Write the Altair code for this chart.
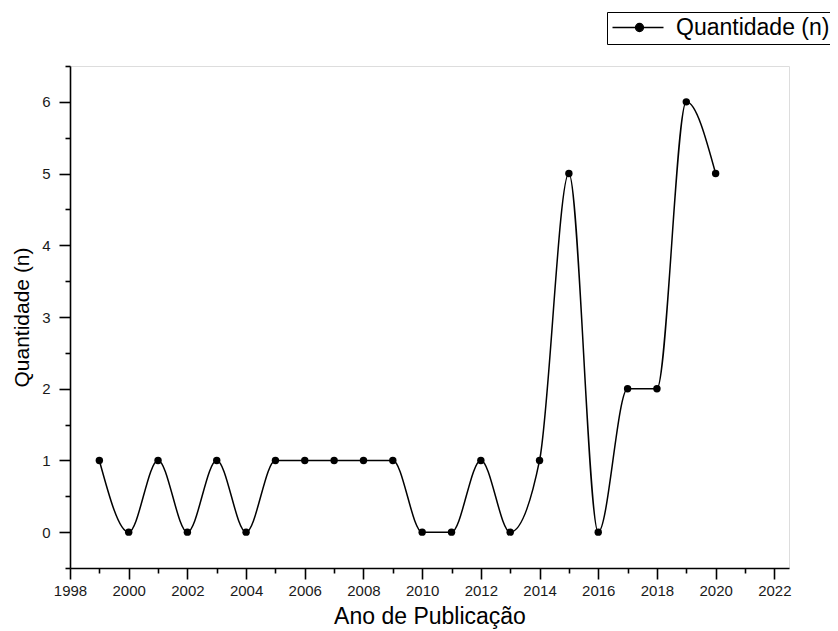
import altair as alt
import pandas as pd

years = list(range(1999, 2021))
quantidade = [1, 0, 1, 0, 1, 0, 1, 1, 1, 1, 1, 0, 0, 1, 0, 1, 5, 0, 2, 2, 6, 5]
serie = "Quantidade (n)"

x_major = list(range(1998, 2023, 2))
x_minor = list(range(1999, 2022, 2))
y_major = [0, 1, 2, 3, 4, 5, 6]
y_minor = [-0.5, 0.5, 1.5, 2.5, 3.5, 4.5, 5.5, 6.5]

df = pd.DataFrame({"ano": years, "q": quantidade, "serie": [serie] * len(years)})

FONT = "Liberation Sans"
xs = alt.Scale(domain=[1998, 2022.5], nice=False, zero=False)
ys = alt.Scale(domain=[-0.5, 6.5], nice=False, zero=False)

legend_symbol = (
    "M-1,0H4.1"
    "M2.1,0A0.4,0.4 0 1,1 1.3,0A0.4,0.4 0 1,1 2.1,0Z"
)

color = alt.Color(
    "serie:N",
    scale=alt.Scale(range=["black"]),
    legend=alt.Legend(
        title=None,
        orient="none",
        legendX=537,
        legendY=-54,
        strokeColor="black",
        padding=4,
        labelFont=FONT,
        labelFontSize=23,
        labelColor="black",
        symbolType=legend_symbol,
        symbolSize=400,
        symbolStrokeWidth=1.3,
        symbolStrokeColor="black",
        symbolFillColor="black",
        labelOffset=42,
    ),
)

common = dict(grid=False, tickColor="black", tickWidth=1.6)

major_x_axis = alt.Axis(
    orient="bottom", values=x_major, format="d", title="Ano de Publicação",
    domainColor="black", domainWidth=1.6, tickSize=11, labelPadding=4,
    labelFont=FONT, labelFontSize=15, labelColor="#1a1a1a",
    titleFont=FONT, titleFontSize=23, titleFontWeight="normal",
    titleColor="black", titlePadding=7, labelFlush=False, **common,
)
major_y_axis = alt.Axis(
    orient="left", values=y_major, format="d", title="Quantidade (n)",
    domainColor="black", domainWidth=1.6, tickSize=11, labelPadding=9,
    labelFont=FONT, labelFontSize=15, labelColor="#1a1a1a",
    titleFont=FONT, titleFontSize=21, titleFontWeight="normal",
    titleColor="black", titlePadding=9, labelFlush=False, **common,
)
minor_x_axis = alt.Axis(
    orient="bottom", values=x_minor, labels=False, title=None, domain=False,
    tickSize=5, **common,
)
minor_y_axis = alt.Axis(
    orient="left", values=y_minor, labels=False, title=None, domain=False,
    tickSize=5, **common,
)

line = alt.Chart(df).mark_line(interpolate="monotone", strokeWidth=1.5).encode(
    x=alt.X("ano:Q", scale=xs, axis=major_x_axis),
    y=alt.Y("q:Q", scale=ys, axis=major_y_axis),
    color=color,
)
points = alt.Chart(df).mark_point(filled=True, size=55, opacity=1).encode(
    x=alt.X("ano:Q", scale=xs, axis=minor_x_axis),
    y=alt.Y("q:Q", scale=ys, axis=minor_y_axis),
    color=color,
)

chart = (
    alt.layer(line, points)
    .resolve_axis(x="independent", y="independent")
    .properties(
        width=719,
        height=502,
        autosize=alt.AutoSizeParams(type="none"),
        padding={"left": 62, "top": 58, "right": 41, "bottom": 62},
    )
    .configure_view(stroke=None)
    .configure(background="white")
)

chart.save("out.html", embed_options={"renderer": "svg", "actions": False})
